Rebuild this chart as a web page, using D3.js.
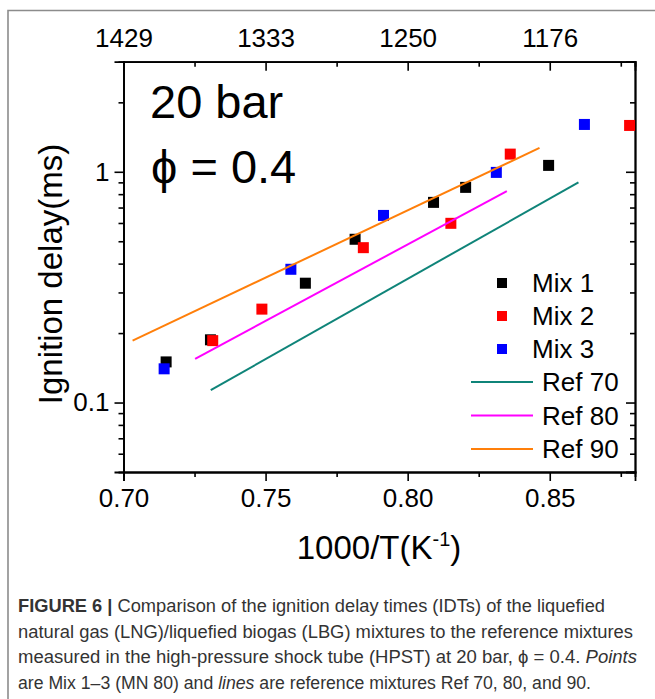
<!DOCTYPE html>
<html>
<head>
<meta charset="utf-8">
<script src="https://cdn.jsdelivr.net/npm/d3@7"></script>
<style>
  html, body { margin: 0; padding: 0; background: #fff; }
  svg { display: block; font-family: "Liberation Sans", Arial, sans-serif; }
</style>
</head>
<body>
<svg id="chart" width="655" height="699"></svg>
<script>
// ---------- data ----------
const mix1X = [0.715, 0.7306, 0.764, 0.7815, 0.8091, 0.8204, 0.8496];
const mix1Y = [0.150, 0.187, 0.329, 0.510, 0.737, 0.856, 1.066];
const mix2X = [0.7314, 0.7487, 0.7844, 0.8152, 0.8361, 0.8781];
const mix2Y = [0.1855, 0.254, 0.469, 0.598, 1.193, 1.588];
const mix3X = [0.7143, 0.7589, 0.7915, 0.8312, 0.8622];
const mix3Y = [0.140, 0.378, 0.647, 0.994, 1.604];

// reference mixtures: straight fits (end points)
const ref70X = [0.7307, 0.8601];
const ref70Y = [0.1132, 0.900];
const ref80X = [0.7252, 0.8349];
const ref80Y = [0.1546, 0.825];
const ref90X = [0.7032, 0.8464];
const ref90Y = [0.1855, 1.27];

const xMajor = [0.70, 0.75, 0.80, 0.85];
const xMinor = [0.725, 0.775, 0.825, 0.875];
const topLabels = ["1429", "1333", "1250", "1176"];
const yMajor = [0.1, 1];
const yMinor = [0.06, 0.07, 0.08, 0.09, 0.2, 0.3, 0.4, 0.5, 0.6, 0.7, 0.8, 0.9, 2];

const mixNames = ["Mix 1", "Mix 2", "Mix 3"];
const refNames = ["Ref 70", "Ref 80", "Ref 90"];

const caption = [
  [{ t: "FIGURE 6 | ", b: true }, { t: "Comparison of the ignition delay times (IDTs) of the liquefied" }],
  [{ t: "natural gas (LNG)/liquefied biogas (LBG) mixtures to the reference mixtures" }],
  [{ t: "measured in the high-pressure shock tube (HPST) at 20 bar, \u03d5 = 0.4. " }, { t: "Points", i: true }],
  [{ t: "are Mix 1\u20133 (MN 80) and " }, { t: "lines", i: true }, { t: " are reference mixtures Ref 70, 80, and 90." }],
];

// ---------- layout ----------
const svg = d3.select("#chart");
const L = 123.5, R = 635, T = 61.7, B = 472;

const x = d3.scaleLinear().domain([0.70, 0.88]).range([L, R]);
const y = d3.scaleLog().domain([0.05, 3]).range([B, T]);

svg.append("rect").attr("width", 655).attr("height", 699).attr("fill", "#fff");

// page frame
svg.append("path")
  .attr("d", "M8,699V10.5H655")
  .attr("fill", "none").attr("stroke", "#8c8c8c").attr("stroke-width", 1.6);

const fmt = d3.format(".2f");

// bottom axis (ticks outward)
const axBottom = svg.append("g").attr("transform", `translate(0,${B})`)
  .call(d3.axisBottom(x).tickValues(xMajor).tickSize(9).tickFormat(fmt));
axBottom.append("g").call(d3.axisBottom(x).tickValues(xMinor).tickSize(5).tickFormat(""));

// top axis (ticks inward)
const axTop = svg.append("g").attr("transform", `translate(0,${T})`)
  .call(d3.axisTop(x).tickValues(xMajor).tickSize(-9).tickPadding(15)
    .tickFormat((d, i) => topLabels[i]));
axTop.append("g").call(d3.axisTop(x).tickValues(xMinor).tickSize(-5).tickFormat(""));

// left axis (ticks outward)
const axLeft = svg.append("g").attr("transform", `translate(${L},0)`)
  .call(d3.axisLeft(y).tickValues(yMajor).tickSize(9).tickPadding(5).tickFormat(d3.format("")));
axLeft.append("g").call(d3.axisLeft(y).tickValues(yMinor).tickSize(5).tickFormat(""));

// right axis (ticks inward)
const axRight = svg.append("g").attr("transform", `translate(${R},0)`)
  .call(d3.axisRight(y).tickValues(yMajor).tickSize(-9).tickFormat(""));
axRight.append("g").call(d3.axisRight(y).tickValues(yMinor).tickSize(-5).tickFormat(""));

svg.selectAll(".domain").attr("stroke", "#000").attr("stroke-width", 1.8);
svg.selectAll(".tick line").attr("stroke", "#000").attr("stroke-width", 1.6);
svg.selectAll(".tick text")
  .attr("font-family", "'Liberation Sans', Arial, sans-serif")
  .attr("font-size", 26).attr("fill", "#000");
axBottom.selectAll(".tick text").attr("dy", null).attr("y", 35);

// axis titles
svg.append("text")
  .attr("transform", `translate(62,274) rotate(-90)`)
  .attr("text-anchor", "middle").attr("font-size", 33)
  .text("Ignition delay(ms)");

const xt = svg.append("text")
  .attr("x", 379).attr("y", 559)
  .attr("text-anchor", "middle").attr("font-size", 33);
xt.append("tspan").text("1000/T(K");
xt.append("tspan").attr("font-size", 20).attr("dy", -13).text("-1");
xt.append("tspan").attr("dy", 13).text(")");

// annotation
svg.append("text").attr("x", 150).attr("y", 118).attr("font-size", 47).text("20 bar");
svg.append("text").attr("x", 151).attr("y", 183).attr("font-size", 47).text("\u03d5 = 0.4");

// ---------- marks ----------
const plot = svg.append("g");
const sq = 11;
const mixes = [
  { xs: mix1X, ys: mix1Y, color: "#000000" },
  { xs: mix2X, ys: mix2Y, color: "#ff0000" },
  { xs: mix3X, ys: mix3Y, color: "#0000ff" },
];
mixes.forEach((m) => {
  plot.append("g").selectAll("rect")
    .data(m.xs.map((v, i) => [v, m.ys[i]]))
    .join("rect")
    .attr("x", (d) => x(d[0]) - sq / 2)
    .attr("y", (d) => y(d[1]) - sq / 2)
    .attr("width", sq).attr("height", sq)
    .attr("fill", m.color);
});

const refs = [
  { xs: ref70X, ys: ref70Y, color: "#0f8479" },
  { xs: ref80X, ys: ref80Y, color: "#ff00ff" },
  { xs: ref90X, ys: ref90Y, color: "#ff7f0a" },
];
const line = d3.line().x((d) => x(d[0])).y((d) => y(d[1]));
refs.forEach((r) => {
  plot.append("path")
    .attr("d", line(r.xs.map((v, i) => [v, r.ys[i]])))
    .attr("fill", "none").attr("stroke", r.color).attr("stroke-width", 2);
});

// ---------- legend ----------
const lg = svg.append("g");
mixNames.forEach((name, i) => {
  const cy = 283 + i * 33;
  lg.append("rect").attr("x", 497).attr("y", cy - 5).attr("width", 10).attr("height", 10)
    .attr("fill", mixes[i].color);
  lg.append("text").attr("x", 532).attr("y", cy + 9).attr("font-size", 26).text(name);
});
refNames.forEach((name, i) => {
  const cy = 382 + i * 33.5;
  lg.append("line").attr("x1", 471).attr("x2", 533).attr("y1", cy).attr("y2", cy)
    .attr("stroke", refs[i].color).attr("stroke-width", 2);
  lg.append("text").attr("x", 542).attr("y", cy + 9).attr("font-size", 26).text(name);
});

// ---------- caption ----------
const capW = [587, 615, 619, 573];
caption.forEach((parts, i) => {
  const t = svg.append("text")
    .attr("x", 18).attr("y", 612 + i * 25.7)
    .attr("font-size", 17.5).attr("fill", "#333")
    .attr("textLength", capW[i]).attr("lengthAdjust", "spacingAndGlyphs");
  parts.forEach((p) => {
    t.append("tspan")
      .attr("font-weight", p.b ? "bold" : null)
      .attr("font-style", p.i ? "italic" : null)
      .text(p.t);
  });
});
</script>
</body>
</html>
